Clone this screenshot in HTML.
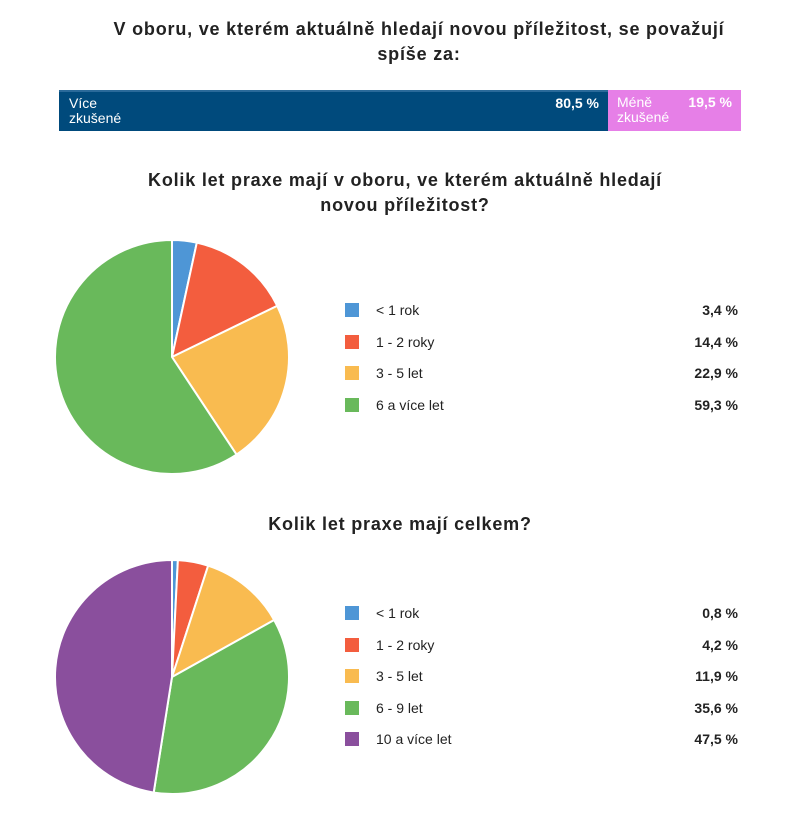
<!DOCTYPE html>
<html><head><meta charset="utf-8"><style>
body{margin:0;width:800px;height:815px;background:#fff;font-family:"Liberation Sans",sans-serif;color:#222;position:relative;overflow:hidden}
.t{position:absolute;left:0;width:800px;text-align:center;font-weight:bold;font-size:18px;line-height:25px;letter-spacing:0.8px}
.bar{position:absolute;top:90px;height:41px;color:#fff;font-size:14px;line-height:15px}
.lg{position:absolute;left:345px;width:393px;font-size:14px}
.row{position:absolute;left:0;width:393px;height:16px}
.sq{position:absolute;left:0;top:1px;width:14px;height:14px}
.lb{position:absolute;left:31px;top:0}
.v{position:absolute;right:0;top:0;font-weight:bold}
</style></head><body>
<div class="t" style="top:17px;left:19px">V oboru, ve kterém aktuálně hledají novou příležitost, se považují<br>spíše za:</div>
<div class="bar" style="left:59px;width:549px;background:#004a7c;border-top:2px solid #2a6a9a;box-sizing:border-box">
<div style="position:absolute;left:10px;top:4px">Více<br>zkušené</div>
<div style="position:absolute;right:9px;top:4px;font-weight:bold">80,5 %</div></div>
<div class="bar" style="left:608px;width:133px;background:#e67fe7">
<div style="position:absolute;left:9px;top:5px">Méně<br>zkušené</div>
<div style="position:absolute;right:9px;top:5px;font-weight:bold">19,5 %</div></div>
<div class="t" style="top:168px;left:5px">Kolik let praxe mají v oboru, ve kterém aktuálně hledají<br>novou příležitost?</div>
<div class="t" style="top:512px;left:0">Kolik let praxe mají celkem?</div>
<svg id="s" width="800" height="815" style="position:absolute;left:0;top:0"></svg>
<div class="lg" style="top:302px" id="l1"></div>
<div class="lg" style="top:605px" id="l2"></div>
<script>
var C={b:"#4e96d6",r:"#f35d3e",o:"#f9bb50",g:"#69b95b",p:"#8a4f9d"};
function pie(cx,cy,R,d){var a=0,s="";d.forEach(function(x){var a2=a+x[1]/100*2*Math.PI;
var x1=cx+R*Math.sin(a),y1=cy-R*Math.cos(a),x2=cx+R*Math.sin(a2),y2=cy-R*Math.cos(a2);
s+='<path d="M'+cx+','+cy+'L'+x1+','+y1+'A'+R+','+R+' 0 '+((a2-a)>Math.PI?1:0)+' 1 '+x2+','+y2+'Z" fill="'+C[x[0]]+'" stroke="#fff" stroke-width="2"/>';a=a2;});return s;}
var d1=[["b",3.4,"< 1 rok"],["r",14.4,"1 - 2 roky"],["o",22.9,"3 - 5 let"],["g",59.3,"6 a více let"]];
var d2=[["b",0.8,"< 1 rok"],["r",4.2,"1 - 2 roky"],["o",11.9,"3 - 5 let"],["g",35.6,"6 - 9 let"],["p",47.5,"10 a více let"]];
document.getElementById("s").innerHTML=pie(172,357,117,d1)+pie(172,677,117,d2);
function lg(id,d){var h="";d.forEach(function(x,i){h+='<div class="row" style="top:'+(i*31.6)+'px"><div class="sq" style="background:'+C[x[0]]+'"></div><div class="lb">'+x[2].replace("<","&lt;")+'</div><div class="v">'+String(x[1].toFixed(1)).replace(".",",")+' %</div></div>';});document.getElementById(id).innerHTML=h;}
lg("l1",d1);lg("l2",d2);
</script>
</body></html>
